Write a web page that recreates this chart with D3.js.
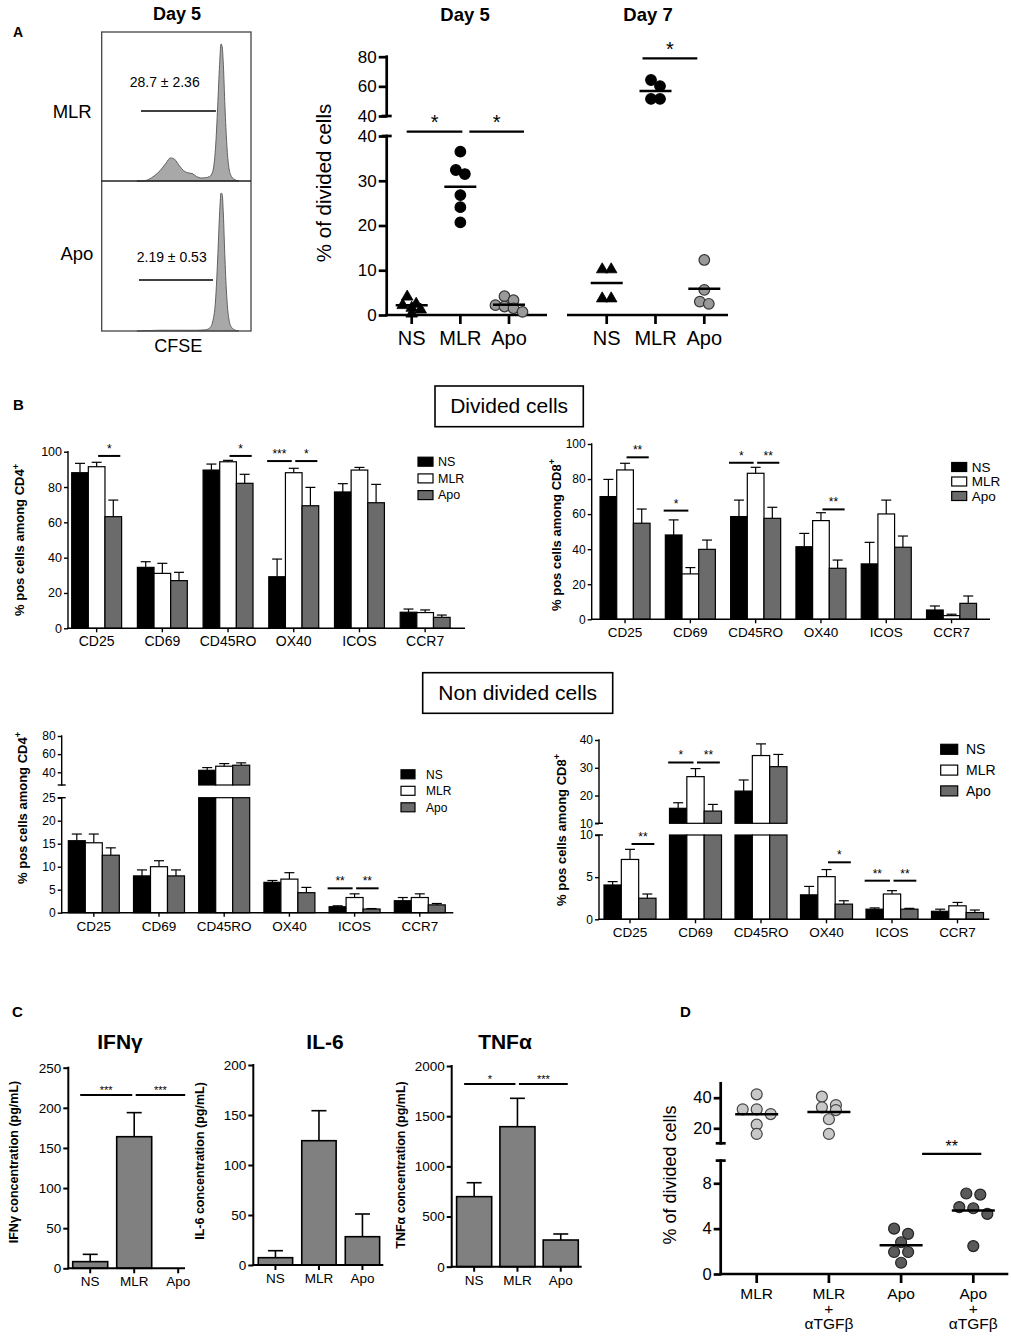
<!DOCTYPE html>
<html lang="en">
<head>
<meta charset="UTF-8">
<title>Divided cells figure</title>
<script src="https://cdn.jsdelivr.net/npm/d3@7"></script>
<style>
  body { margin: 0; background: #fff; }
  svg { display: block; font-family: "Liberation Sans", Arial, Helvetica, sans-serif; }
</style>
</head>
<body>
<svg id="fig" width="1011" height="1339"></svg>
<script>
// ---------------- data ----------------
// A, left: CFSE profiles at day 5 (events, % of the plot height)
const cfseChannel = [240, 280, 320, 360, 400, 440, 470, 500, 530, 560, 590, 620, 650, 680, 710, 740, 760, 780, 795, 808, 818, 826, 834, 845, 858, 872, 890, 915, 940];
const cfseMLR =     [0,   0,   1,   3.5, 7,   12,  15.5,14.5,10.5,7,   5.5, 5,   3,   2,   2.2, 3,   6,   22,  50,  78,  92,  90,  78,  50,  24,  9,   3,   0.8, 0];
const cfseApo =     [0,   0.2, 0.3, 0.4, 0.5, 0.5, 0.5, 0.5, 0.5, 0.5, 0.5, 0.5, 0.5, 0.6, 0.8, 2,   6,   20,  48,  78,  92,  91,  78,  48,  22,  8,   2.5, 0.6, 0];
const gateMLR = [268, 783];
const gateApo = [254, 763];
const gateLabels = ["28.7 ± 2.36", "2.19 ± 0.53"];

// A, right: % of divided cells
const conditions = ["NS", "MLR", "Apo"];
const day5Divided = [
  [4.3, 2.7, 2.4, 1.4, 0.5, 1.8],
  [36.5, 32.4, 31.5, 26.8, 24.1, 20.7],
  [3.3, 4.2, 1.9, 2.2, 0.7, 1.5]
];
const day7Divided = [
  [10.4, 10.4, 3.9, 3.9],
  [64.3, 60.2, 51.5, 51.5],
  [12.3, 5.6, 2.5, 3.0]
];
const day5Sig = [[0, 1, 41, "*"], [1, 2, 41, "*"]];
const day7Sig = [[1, 2, 78.9, "*"]];

// B: % positive cells, rows = NS, MLR, Apo
const markers = ["CD25", "CD69", "CD45RO", "OX40", "ICOS", "CCR7"];
const cd4DivMean = [
  [88.1, 34.5, 89.6, 29.2, 77.2, 9.1],
  [91.5, 31.1, 94.3, 88.1, 89.6, 8.9],
  [63.2, 27.0, 82.1, 69.4, 71.1, 6.2]
];
const cd4DivSem = [
  [5.3, 3.2, 3.4, 10.0, 4.7, 1.8],
  [2.5, 5.7, 0.8, 2.5, 1.5, 1.5],
  [9.4, 4.7, 5.1, 10.4, 10.4, 1.3]
];
const cd4DivSig = [["CD25", 1, 2, 97.6, "*"], ["CD45RO", 1, 2, 97.6, "*"], ["OX40", 0, 1, 94.7, "***"], ["OX40", 1, 2, 94.7, "*"]];

const cd8DivMean = [
  [70.0, 48.1, 58.6, 41.4, 31.6, 5.3],
  [85.2, 25.9, 83.3, 56.3, 60.1, 2.1],
  [54.8, 39.9, 57.6, 29.1, 41.1, 9.1]
];
const cd8DivSem = [
  [9.8, 8.6, 9.4, 7.6, 12.3, 2.3],
  [3.8, 3.6, 3.4, 4.5, 7.9, 0.8],
  [8.1, 5.3, 6.3, 4.7, 6.4, 4.2]
];
const cd8DivSig = [["CD25", 1, 2, 92.4, "**"], ["CD69", 0, 1, 62, "*"], ["CD45RO", 0, 1, 89.3, "*"], ["CD45RO", 1, 2, 89.3, "**"], ["OX40", 1, 2, 62.7, "**"]];

const cd4NonMean = [
  [15.65, 8.0, 42.2, 6.6, 1.3, 2.6],
  [15.2, 10.0, 46.7, 7.3, 3.3, 3.3],
  [12.5, 8.0, 47.8, 4.35, 0.8, 1.7]
];
const cd4NonSem = [
  [1.45, 1.3, 3.0, 0.4, 0.2, 0.7],
  [1.9, 1.3, 2.9, 1.4, 0.8, 0.8],
  [1.6, 1.3, 2.6, 1.15, 0.1, 0.3]
];
const cd4NonSig = [["ICOS", 0, 1, 5.3, "**"], ["ICOS", 1, 2, 5.3, "**"]];

const cd8NonMean = [
  [4.07, 15.4, 21.6, 2.9, 1.2, 0.95],
  [7.1, 26.8, 34.4, 5.06, 3.0, 1.6],
  [2.5, 14.4, 30.4, 1.8, 1.2, 0.8]
];
const cd8NonSem = [
  [0.4, 2.0, 4.0, 1.0, 0.15, 0.25],
  [1.2, 2.9, 4.2, 0.84, 0.4, 0.4],
  [0.5, 2.4, 4.4, 0.4, 0.1, 0.3]
];
const cd8NonSig = [["CD25", 1, 2, 8.93, "**"], ["CD69", 0, 1, 31.9, "*"], ["CD69", 1, 2, 31.9, "**"], ["OX40", 1, 2, 6.76, "*"], ["ICOS", 0, 1, 4.58, "**"], ["ICOS", 1, 2, 4.58, "**"]];

// C: cytokines (pg/mL), order NS, MLR, Apo
const ifngMean = [8.3, 164, 0];
const ifngSem = [9.1, 30, 0];
const ifngSig = [[0, 1, 216, "***"], [1, 2, 216, "***"]];
const il6Mean = [7.3, 124.3, 28.3];
const il6Sem = [7, 30, 22.7];
const tnfaMean = [698, 1395, 266];
const tnfaSem = [139, 283, 60];
const tnfaSig = [[0, 1, 1821, "*"], [1, 2, 1821, "***"]];

// D: % of divided cells with anti-TGFb
const dGroups = ["MLR", "MLR + αTGFβ", "Apo", "Apo + αTGFβ"];
const dDivided = [
  [42.2, 32.4, 32.4, 29.3, 22.4, 16.3],
  [40.7, 33.7, 35.2, 31.9, 25.9, 16.3],
  [3.54, 4.0, 2.8, 1.94, 1.94, 0.99],
  [7.0, 7.1, 5.8, 5.9, 5.3, 2.46]
];
const dSig = [[2, 3, 10.6, "**"]];

// ---------------- helpers ----------------
const svg = d3.select("#fig");
svg.append("rect").attr("width", 1011).attr("height", 1339).attr("fill", "#fff");
const FONT = '"Liberation Sans", Arial, Helvetica, sans-serif';

function txt(g, x, y, s, size, opt) {
  opt = opt || {};
  return g.append("text").attr("x", x).attr("y", y)
    .attr("font-size", size)
    .attr("font-weight", opt.bold ? "bold" : "normal")
    .attr("text-anchor", opt.anchor || "middle")
    .attr("fill", "#000").text(s);
}

function line(g, x1, y1, x2, y2, w) {
  return g.append("line").attr("x1", x1).attr("y1", y1).attr("x2", x2).attr("y2", y2)
    .attr("stroke", "#000").attr("stroke-width", w);
}

// rotated axis title, optional superscript
function yTitle(g, x, y, s, size, bold, sup) {
  const t = g.append("text")
    .attr("transform", "translate(" + x + "," + y + ") rotate(-90)")
    .attr("text-anchor", "middle").attr("font-size", size)
    .attr("font-weight", bold ? "bold" : "normal").text(s);
  if (sup) t.append("tspan").attr("dy", -size * 0.4).attr("font-size", size * 0.7).text(sup);
}

function makeSegs(defs) {
  return defs.map(d => Object.assign({}, d, { scale: d3.scaleLinear().domain(d.domain).range(d.range) }));
}
function segOf(segs, v) {
  for (let i = 0; i < segs.length; i++) if (v <= segs[i].domain[1]) return i;
  return segs.length - 1;
}
function yOf(segs, v) { return segs[segOf(segs, v)].scale(v); }

// broken y axis
function yAxis(g, x, segs, o) {
  segs.forEach((s, i) => {
    const ax = g.append("g").attr("transform", "translate(" + x + ",0)")
      .call(d3.axisLeft(s.scale).tickValues(s.ticks).tickFormat(d3.format("d"))
        .tickSize(o.tick).tickSizeOuter(0).tickPadding(o.pad));
    ax.attr("font-family", FONT).attr("font-size", o.font);
    ax.select(".domain").remove();
    ax.selectAll(".tick line").attr("stroke", "#000").attr("stroke-width", o.sw);
    ax.selectAll(".tick text").attr("fill", "#000");
    line(g, x, s.range[0] + o.sw / 2, x, s.range[1] - o.sw / 2, o.sw);
    if (segs.length > 1) {
      if (i > 0) line(g, x - o.brk, s.range[0], x + o.brk, s.range[0], o.sw);
      if (i < segs.length - 1) line(g, x - o.brk, s.range[1], x + o.brk, s.range[1], o.sw);
    }
  });
}

// grouped / simple bar chart with optional broken axis
function barPanel(c) {
  const g = svg.append("g");
  const segs = makeSegs(c.segs);
  const base = segs[0].range[0];
  const x = d3.scaleBand().domain(c.cats).range(c.band).paddingInner(c.pad).paddingOuter(c.pad / 2);
  const xs = d3.scaleBand().domain(d3.range(c.mean.length)).range([0, x.bandwidth()]);
  const bw = xs.bandwidth();
  const cx = (i, j) => x(c.cats[i]) + xs(j) + bw / 2;

  c.mean.forEach((row, j) => row.forEach((v, i) => {
    const x0 = x(c.cats[i]) + xs(j);
    segs.forEach(s => {
      if (v <= s.domain[0]) return;
      const yt = s.scale(Math.min(v, s.domain[1]));
      g.append("rect").attr("x", x0).attr("y", yt).attr("width", bw)
        .attr("height", s.scale(s.domain[0]) - yt)
        .attr("fill", c.fills[j]).attr("stroke", "#000").attr("stroke-width", c.barSw);
    });
    const e = c.sem[j][i];
    if (e > 0) {
      const yv = yOf(segs, v), ye = yOf(segs, v + e);
      line(g, cx(i, j), yv, cx(i, j), ye, c.barSw);
      line(g, cx(i, j) - c.cap / 2, ye, cx(i, j) + c.cap / 2, ye, c.barSw);
    }
  }));

  // axes
  yAxis(g, c.axisX, segs, c.yax);
  line(g, c.axisX - c.yax.sw / 2, base, c.axisEnd, base, c.yax.sw);
  const xa = g.append("g").attr("transform", "translate(0," + base + ")")
    .call(d3.axisBottom(x).tickSize(c.xtick).tickSizeOuter(0).tickPadding(3));
  xa.attr("font-family", FONT).attr("font-size", c.labelFont);
  xa.select(".domain").remove();
  xa.selectAll(".tick line").attr("stroke", "#000").attr("stroke-width", c.yax.sw);
  xa.selectAll(".tick text").attr("fill", "#000").attr("y", c.labelDy).attr("dy", 0);

  // significance bars
  (c.sig || []).forEach(s => {
    let ia, ib, ja, jb, yv, lab;
    if (c.mean.length > 1) { ia = ib = c.cats.indexOf(s[0]); ja = s[1]; jb = s[2]; yv = s[3]; lab = s[4]; }
    else { ia = s[0]; ib = s[1]; ja = jb = 0; yv = s[2]; lab = s[3]; }
    const top = Math.max(c.mean[ja][ia] + c.sem[ja][ia], c.mean[jb][ib] + c.sem[jb][ib]);
    const y = segs[segOf(segs, top)].scale(yv);
    const first = c.mean.length > 1 ? ja === 0 : ia === 0;
    const off = first ? [-10, -2] : [1.5, 7];
    const x1 = cx(ia, ja) + off[0], x2 = cx(ib, jb) + off[1];
    line(g, x1, y, x2, y, c.sigSw);
    txt(g, (x1 + x2) / 2, y - c.starDy, lab, c.starFont);
  });

  // legend
  if (c.legend) {
    const L = c.legend;
    c.names.forEach((n, j) => {
      const y = L.y + j * L.dy;
      g.append("rect").attr("x", L.x).attr("y", y - L.h / 2).attr("width", L.w).attr("height", L.h)
        .attr("fill", c.fills[j]).attr("stroke", "#000").attr("stroke-width", 1.2);
      txt(g, L.tx, y, n, L.font, { anchor: "start" }).attr("dy", "0.35em");
    });
  }
  if (c.title) yTitle(g, c.title.x, c.title.y, c.title.text, c.title.size, true, c.title.sup);
  return g;
}

// place dots in rows, centred on the category
function swarm(values, yFn, spacing, thr) {
  const pts = values.map(v => ({ v: v, y: yFn(v) })).sort((a, b) => a.y - b.y);
  const rows = [];
  pts.forEach(p => {
    const r = rows[rows.length - 1];
    if (r && p.y - r[0].y < thr) r.push(p); else rows.push([p]);
  });
  rows.forEach(r => r.forEach((p, k) => { p.dx = (k - (r.length - 1) / 2) * spacing; }));
  return pts;
}

function dotBlock(g, xs, cats, values, segs, c) {
  const yFn = v => yOf(segs, v);
  line(g, c.lineX[0], segs[0].range[0], c.lineX[1], segs[0].range[0], c.sw);
  cats.forEach((cat, i) => {
    const cxp = xs(cat);
    line(g, cxp, segs[0].range[0], cxp, segs[0].range[0] + c.xtick, c.sw);
    const st = c.style(cat, i);
    swarm(values[i], yFn, c.spacing, c.thr).forEach(p => {
      if (st.shape === "triangle") {
        g.append("path").attr("d", d3.symbol(d3.symbolTriangle, c.triSize)())
          .attr("transform", "translate(" + (cxp + p.dx) + "," + (p.y + 1) + ")")
          .attr("fill", st.fill).attr("stroke", st.stroke).attr("stroke-width", 0.8);
      } else {
        g.append("circle").attr("cx", cxp + p.dx).attr("cy", p.y).attr("r", c.r)
          .attr("fill", st.fill).attr("stroke", st.stroke).attr("stroke-width", 1.2);
      }
    });
    const ym = yFn(d3.mean(values[i]));
    line(g, cxp - c.meanLen / 2, ym, cxp + c.meanLen / 2, ym, 2.5);
    const lines = cat.split(" + ");
    const labs = lines.length > 1 ? [lines[0], "+", lines[1]] : lines;
    labs.forEach((l, k) => txt(g, cxp, segs[0].range[0] + c.labelDy + k * c.labelStep, l, c.labelFont));
  });
}

function dotSig(g, xs, cats, values, segs, sig, offFirst, offOther, font) {
  sig.forEach(s => {
    const top = Math.max(d3.max(values[s[0]]), d3.max(values[s[1]]));
    const y = segs[segOf(segs, top)].scale(s[2]);
    const off = s[0] === 0 ? offFirst : offOther;
    const x1 = xs(cats[s[0]]) + off[0], x2 = xs(cats[s[1]]) + off[1];
    line(g, x1, y, x2, y, 2.2);
    txt(g, (x1 + x2) / 2, y - font * 0.12, s[3], font);
  });
}

// ---------------- panel letters ----------------
txt(svg, 13, 37, "A", 14, { bold: true, anchor: "start" });
txt(svg, 13, 410, "B", 15, { bold: true, anchor: "start" });
txt(svg, 12, 1017, "C", 15, { bold: true, anchor: "start" });
txt(svg, 680, 1017, "D", 15, { bold: true, anchor: "start" });

// ---------------- A: histograms ----------------
(function () {
  const g = svg.append("g");
  const hx = d3.scaleLinear().domain([0, 1024]).range([102, 251]);
  const hyM = d3.scaleLinear().domain([0, 100]).range([181, 32]);
  const hyA = d3.scaleLinear().domain([0, 100]).range([331, 181]);
  [[cfseMLR, hyM], [cfseApo, hyA]].forEach(([vals, hy]) => {
    const area = d3.area().x((d, i) => hx(cfseChannel[i])).y0(hy(0)).y1(d => hy(d)).curve(d3.curveMonotoneX);
    g.append("path").attr("d", area(vals)).attr("fill", "#a8a8a8").attr("stroke", "#555").attr("stroke-width", 0.9);
  });
  g.append("rect").attr("x", 101.7).attr("y", 32).attr("width", 149.3).attr("height", 299)
    .attr("fill", "none").attr("stroke", "#444").attr("stroke-width", 1.3);
  line(g, 101.7, 181, 251, 181, 1.5).attr("stroke", "#222");
  line(g, hx(gateMLR[0]), hyM(47), hx(gateMLR[1]), hyM(47), 1.6);
  line(g, hx(gateApo[0]), hyA(34), hx(gateApo[1]), hyA(34), 1.6);
  txt(g, 164.7, 87.3, gateLabels[0], 14);
  txt(g, 171.7, 261.7, gateLabels[1], 14);
  txt(g, 91.7, 118.3, "MLR", 18.5, { anchor: "end" });
  txt(g, 93.3, 260, "Apo", 18.5, { anchor: "end" });
  txt(g, 177, 20, "Day 5", 18, { bold: true });
  txt(g, 178.3, 351.7, "CFSE", 18);
})();

// ---------------- A: divided cells scatter ----------------
(function () {
  const g = svg.append("g");
  const segs = makeSegs([
    { domain: [0, 40], range: [315, 136], ticks: [0, 10, 20, 30, 40] },
    { domain: [40, 80], range: [116, 56.7], ticks: [40, 60, 80] }
  ]);
  yAxis(g, 386.7, segs, { tick: 8, pad: 2, font: 17, sw: 2.7, brk: 5 });
  const x5 = d3.scalePoint().domain(conditions).range([411.7, 509]);
  const x7 = d3.scalePoint().domain(conditions).range([606.7, 704.3]);
  const style = cat => cat === "NS" ? { shape: "triangle", fill: "#000", stroke: "#000" }
    : cat === "MLR" ? { shape: "circle", fill: "#000", stroke: "#000" }
    : { shape: "circle", fill: "#9a9a9a", stroke: "#333" };
  const common = { sw: 2.7, xtick: 9, spacing: 9, thr: 8, r: 5.3, triSize: 58, meanLen: 32, labelDy: 30, labelStep: 0, labelFont: 20, style: style };
  dotBlock(g, x5, conditions, day5Divided, segs, Object.assign({ lineX: [385.4, 547] }, common));
  dotBlock(g, x7, conditions, day7Divided, segs, Object.assign({ lineX: [567, 728] }, common));
  dotSig(g, x5, conditions, day5Divided, segs, day5Sig, [-5, 2], [9, 15], 20);
  dotSig(g, x7, conditions, day7Divided, segs, day7Sig, [-5, 2], [-13, -7], 20);
  txt(g, 465, 20.5, "Day 5", 18.5, { bold: true });
  txt(g, 648, 20.5, "Day 7", 18.5, { bold: true });
  yTitle(g, 331, 183, "% of divided cells", 20.5, false);
})();

// ---------------- B ----------------
function boxLabel(x, y, w, h, s) {
  svg.append("rect").attr("x", x).attr("y", y).attr("width", w).attr("height", h)
    .attr("fill", "#fff").attr("stroke", "#000").attr("stroke-width", 1.6);
  txt(svg, x + w / 2, y + h / 2 + 7, s, 21);
}
boxLabel(435, 386, 148.3, 40.7, "Divided cells");
boxLabel(422.7, 672.7, 190, 40.6, "Non divided cells");

const bStyle = {
  cats: markers, names: conditions, fills: ["#000", "#fff", "#6b6b6b"],
  barSw: 1.2, cap: 10, xtick: 4, labelDy: 18, sigSw: 2, starDy: 3, starFont: 12
};
barPanel(Object.assign({}, bStyle, {
  mean: cd4DivMean, sem: cd4DivSem, sig: cd4DivSig,
  segs: [{ domain: [0, 100], range: [628.3, 451.7], ticks: [0, 20, 40, 60, 80, 100] }],
  axisX: 68, axisEnd: 465, band: [63.8, 458], pad: 0.24, labelFont: 14,
  yax: { tick: 4, pad: 2, font: 12.5, sw: 1.4, brk: 4 },
  legend: { x: 418, y: 461.7, dy: 16.7, w: 15, h: 9, tx: 438, font: 12.5 },
  title: { x: 24, y: 540, text: "% pos cells among CD4", sup: "+", size: 13 }
}));
barPanel(Object.assign({}, bStyle, {
  mean: cd8DivMean, sem: cd8DivSem, sig: cd8DivSig,
  segs: [{ domain: [0, 100], range: [619.3, 444], ticks: [0, 20, 40, 60, 80, 100] }],
  axisX: 591.7, axisEnd: 990, band: [592.4, 984.2], pad: 0.234, labelFont: 13.5,
  yax: { tick: 4, pad: 2, font: 12, sw: 1.4, brk: 4 },
  legend: { x: 951.7, y: 467, dy: 14.5, w: 15, h: 9, tx: 971.7, font: 13.5 },
  title: { x: 560.5, y: 535, text: "% pos cells among CD8", sup: "+", size: 13 }
}));
barPanel(Object.assign({}, bStyle, {
  mean: cd4NonMean, sem: cd4NonSem, sig: cd4NonSig,
  segs: [
    { domain: [0, 25], range: [912.7, 797.7], ticks: [0, 5, 10, 15, 20, 25] },
    { domain: [26, 80], range: [785, 736], ticks: [40, 60, 80] }
  ],
  axisX: 61.7, axisEnd: 453.3, band: [61.2, 452.4], pad: 0.218, labelFont: 13.5,
  yax: { tick: 4, pad: 2, font: 12, sw: 1.4, brk: 4 },
  legend: { x: 401, y: 774.3, dy: 16.5, w: 14, h: 9, tx: 426, font: 12 },
  title: { x: 26.5, y: 808, text: "% pos cells among CD4", sup: "+", size: 13 }
}));
barPanel(Object.assign({}, bStyle, {
  mean: cd8NonMean, sem: cd8NonSem, sig: cd8NonSig,
  segs: [
    { domain: [0, 10], range: [919.3, 835], ticks: [0, 5, 10] },
    { domain: [10, 40], range: [823.3, 740], ticks: [10, 20, 30, 40] }
  ],
  axisX: 599, axisEnd: 989.3, band: [597.25, 990.25], pad: 0.206, labelFont: 13.5,
  yax: { tick: 4, pad: 2, font: 12, sw: 1.4, brk: 4 },
  legend: { x: 940.7, y: 749.3, dy: 20.8, w: 17, h: 10, tx: 966, font: 14 },
  title: { x: 565.5, y: 830, text: "% pos cells among CD8", sup: "+", size: 13 }
}));

// ---------------- C ----------------
const cStyle = {
  cats: conditions, fills: ["#808080"], barSw: 1.6, cap: 15, xtick: 5, labelDy: 18,
  labelFont: 13.5, sigSw: 2, starDy: 1, starFont: 11,
  yax: { tick: 5, pad: 2, font: 13.5, sw: 2, brk: 4 }
};
barPanel(Object.assign({}, cStyle, {
  mean: [ifngMean], sem: [ifngSem], sig: ifngSig,
  segs: [{ domain: [0, 250], range: [1268.3, 1067.7], ticks: [0, 50, 100, 150, 200, 250] }],
  axisX: 68.3, axisEnd: 185, band: [68.2, 200.2], pad: 0.2045,
  title: { x: 18, y: 1162, text: "IFNγ concentration  (pg/mL)", size: 12.5 }
}));
barPanel(Object.assign({}, cStyle, {
  mean: [il6Mean], sem: [il6Sem],
  segs: [{ domain: [0, 200], range: [1265, 1065], ticks: [0, 50, 100, 150, 200] }],
  axisX: 253.3, axisEnd: 383.3, band: [253.7, 384.2], pad: 0.21,
  title: { x: 204, y: 1161, text: "IL-6 concentration  (pg/mL)", size: 12.5 }
}));
barPanel(Object.assign({}, cStyle, {
  mean: [tnfaMean], sem: [tnfaSem], sig: tnfaSig,
  segs: [{ domain: [0, 2000], range: [1266.7, 1066], ticks: [0, 500, 1000, 1500, 2000] }],
  axisX: 451.7, axisEnd: 581.7, band: [452.5, 582.4], pad: 0.19,
  title: { x: 404.5, y: 1165, text: "TNFα concentration  (pg/mL)", size: 12.5 }
}));
txt(svg, 120, 1049, "IFNγ", 21, { bold: true });
txt(svg, 325, 1049, "IL-6", 21, { bold: true });
txt(svg, 505, 1049, "TNFα", 21, { bold: true });

// ---------------- D ----------------
(function () {
  const g = svg.append("g");
  const segs = makeSegs([
    { domain: [0, 10], range: [1274, 1160.6], ticks: [0, 4, 8] },
    { domain: [10.2, 49.4], range: [1143.3, 1083.3], ticks: [20, 40] }
  ]);
  yAxis(g, 720.7, segs, { tick: 7, pad: 2, font: 16.5, sw: 2.7, brk: 5 });
  const xd = d3.scalePoint().domain(dGroups).range([756.7, 973.3]);
  dotBlock(g, xd, dGroups, dDivided, segs, {
    lineX: [719.4, 1008.3], sw: 2.7, xtick: 9, spacing: 14, thr: 9, r: 5.5, triSize: 58,
    meanLen: 43, labelDy: 24.5, labelStep: 15, labelFont: 15.5,
    style: cat => cat.indexOf("MLR") === 0
      ? { shape: "circle", fill: "#c8c8c8", stroke: "#444" }
      : { shape: "circle", fill: "#5a5a5a", stroke: "#222" }
  });
  dotSig(g, xd, dGroups, dDivided, segs, dSig, [21, 8], [21, 8], 16);
  yTitle(g, 676, 1175, "% of divided cells", 18, false);
})();
</script>
</body>
</html>
